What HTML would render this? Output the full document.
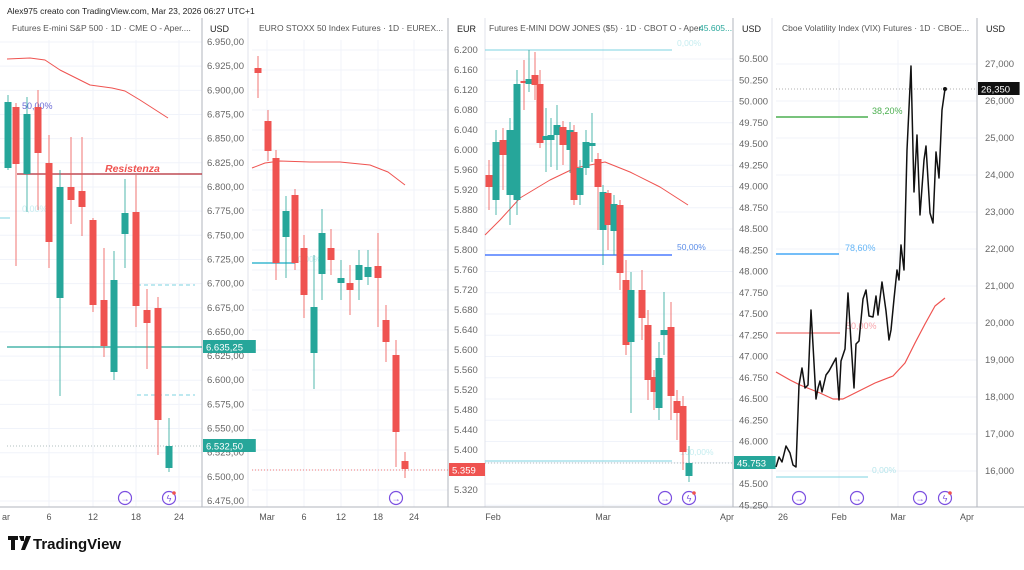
<!DOCTYPE html>
<html><head><meta charset="utf-8"><style>
body{margin:0;background:#fff;width:1024px;height:565px;overflow:hidden;font-family:"Liberation Sans",sans-serif}
svg text{font-family:"Liberation Sans",sans-serif}
</style></head><body>
<svg id="s" width="1024" height="565" viewBox="0 0 1024 565" xmlns="http://www.w3.org/2000/svg">
<rect width="1024" height="565" fill="#fff"/>
<text x="7" y="14" font-size="8.5" fill="#222">Alex975 creato con TradingView.com, Mar 23, 2026 06:27 UTC+1</text>
<g id="g"></g>
<g transform="translate(8,536)">
<path d="M0 0h10v4h-3v10h-4v-10h-3z M11 0h5v5h-3z M18 0h5l-6 14h-4z" fill="#111"/>
<text x="25" y="13" font-size="15" font-weight="bold" fill="#111">TradingView</text>
</g>
</svg>
<script>
const g=document.getElementById('g');let h='';
const G='#26a69a',R='#ef5350';
function ln(x1,y1,x2,y2,c,w,d){h+=`<line x1="${x1}" y1="${y1}" x2="${x2}" y2="${y2}" stroke="${c}" stroke-width="${w||1}" ${d?`stroke-dasharray="${d}"`:''}/>`}
function tx(x,y,t,s,c,a,extra){h+=`<text x="${x}" y="${y}" font-size="${s}" fill="${c}" ${a?`text-anchor="${a}"`:''} ${extra||''}>${t}</text>`}
function pl(p,c,w){h+=`<polyline points="${p}" fill="none" stroke="${c}" stroke-width="${w||1.2}" stroke-linejoin="round"/>`}
function cd(x,o,c,hi,lo,col){col=col==='g'?G:R;ln(x,hi,x,lo,col,0.8);h+=`<rect x="${x-3.5}" y="${Math.min(o,c)}" width="7" height="${Math.max(1.5,Math.abs(c-o))}" fill="${col}"/>`}
function lbl(x,y,t,bg,fg){h+=`<rect x="${x}" y="${y-7}" width="${t.length*5.6+8}" height="13" fill="${bg}"/>`;tx(x+3,y+3.5,t,9.5,fg||'#fff')}
function grid(l,r,ys,xs){ys.forEach(y=>ln(l,y,r,y,'#f0f3fa',1));xs.forEach(x=>ln(x,40,x,507,'#f0f3fa',1))}
let ys1=[],t1=[];for(let i=0;i<20;i++){let v=6950-25*i,y=42+i*24.16;ys1.push(y);t1.push([v,y])}
grid(0,202,ys1,[49,93,136,179]);
let ys2=[],t2=[];for(let i=0;i<23;i++){let v=6200-40*i,y=50+i*20;ys2.push(y);t2.push([v,y])}
grid(252,448,ys2,[267,304,341,378,414]);
let ys3=[],t3=[];for(let i=0;i<22;i++){let v=50500-250*i,y=59+i*21.25;ys3.push(y);t3.push([v,y])}
grid(485,733,ys3,[603]);
let ys4=[],t4=[];for(let i=0;i<12;i++){let v=27000-1000*i,y=64+i*37;ys4.push(y);t4.push([v,y])}
grid(776,977,ys4,[839,898]);
[202,448,733,977].forEach(x=>ln(x,18,x,507,'#b2b5be',1));
[248,485,772].forEach(x=>ln(x,18,x,507,'#e0e3eb',1));
ln(0,507,1024,507,'#b2b5be',1);
tx(12,31,'Futures E-mini S&amp;P 500 · 1D · CME  O - Aper....',8.5,'#555');
tx(259,31,'EURO STOXX 50 Index Futures · 1D · EUREX...',8.5,'#555');
tx(489,31,'Futures E-MINI DOW JONES ($5) · 1D · CBOT  O - Aper.',8.5,'#555');tx(699,31,'45.605...',8.5,G);
tx(782,31,'Cboe Volatility Index (VIX) Futures · 1D · CBOE...',8.5,'#555');
tx(210,32,'USD',9,'#222');tx(457,32,'EUR',9,'#222');tx(742,32,'USD',9,'#222');tx(986,32,'USD',9,'#222');
const f1=v=>{let s=(v/1000).toFixed(3).replace('.',',');return s.slice(0,1)+'.'+s.slice(2)+',00'};
t1.forEach(([v,y])=>tx(207,y+3,f1(v),9.5,'#666'));
t2.forEach(([v,y])=>tx(454,y+3,(v/1000).toFixed(3),9.5,'#666'));
t3.forEach(([v,y])=>{if(y>50)tx(739,y+3,(v/1000).toFixed(3),9.5,'#666')});
t4.forEach(([v,y])=>tx(985,y+3,(v/1000).toFixed(3).replace('.',','),9.5,'#666'));
[['ar',6],['6',49],['12',93],['18',136],['24',179],['Mar',267],['6',304],['12',341],['18',378],['24',414],['Feb',493],['Mar',603],['Apr',727],['26',783],['Feb',839],['Mar',898],['Apr',967]].forEach(([t,x])=>tx(x,520,t,9,'#555','middle'));
pl('7,59 30,58 45,60 60,70 90,85 112,88 125,91 140,100 168,118',R,1);
ln(17,174,202,174,'#b22833',1.3);tx(105,172,'Resistenza',10.5,R,'','font-style="italic" font-weight="bold"');
ln(7,347,202,347,G,1.2);
ln(7,446,202,446,'#9aa',0.8,'1 2');
ln(137,285,195,285,'#7dd3e0',1,'4 3');ln(137,395,195,395,'#7dd3e0',1,'4 3');
ln(0,218,10,218,'#7dd3e0',1);
tx(22,109,'50,00%',9,'#6b6bd6');tx(22,212,'0,00%',9,'#c6edf0');
[[8,168,102,95,170,'g'],[16,107,164,103,266,'r'],[27,174,114,97,212,'g'],[38,107,153,90,210,'r'],[49,163,242,135,268,'r'],[60,298,187,170,396,'g'],[71,187,200,137,224,'r'],[82,191,207,137,236,'r'],[93,220,305,218,312,'r'],[104,300,346,248,357,'r'],[114,372,280,251,380,'g'],[125,234,213,179,268,'g'],[136,212,306,175,327,'r'],[147,310,323,289,369,'r'],[158,308,420,297,455,'r'],[169,468,446,418,472,'g']].forEach(a=>cd(...a));
lbl(203,347,'6.635,25',G);lbl(203,446,'6.532,50',G);
pl('252,168 265,163 280,161 310,162 340,162 370,165 388,172 405,185',R,1);
ln(252,263,295,263,'#3bb8d0',1.5);tx(298,262,'0,00%',8,'#c6edf0');
ln(252,470,448,470,R,0.8,'1 2');
[[258,68,73,56,98,'r'],[268,121,151,110,161,'r'],[276,158,263,150,280,'r'],[286,237,211,196,278,'g'],[295,195,263,189,270,'r'],[304,248,295,235,318,'r'],[314,353,307,255,389,'g'],[322,274,233,209,300,'g'],[331,248,260,229,275,'r'],[341,283,278,260,300,'g'],[350,283,290,265,315,'r'],[359,280,265,250,300,'g'],[368,277,267,250,285,'g'],[378,266,278,233,327,'r'],[386,320,342,305,362,'r'],[396,355,432,340,467,'r'],[405,461,469,452,478,'r']].forEach(a=>cd(...a));
lbl(449,470,'5.359',R);
ln(485,50,672,50,'#7dd3e0',1);tx(677,46,'0,00%',8.5,'#c6edf0');
ln(485,255,672,255,'#2962ff',1.2);tx(677,250,'50,00%',8.5,'#5b8de8');
ln(485,461,672,461,'#7dd3e0',1);tx(680,455,'100,00%',8.5,'#c6edf0');
ln(485,463,733,463,'#9aa',0.8,'1 2');
pl('485,235 500,220 520,198 550,180 575,168 605,162 630,172 660,187 688,205',R,1);
[[489,175,187,160,210,'r'],[496,200,142,130,215,'g'],[503,140,155,128,190,'r'],[510,195,130,118,225,'g'],[517,200,84,70,215,'g'],[524,81,83,60,110,'r'],[529,84,79,50,92,'g'],[535,75,85,52,100,'r'],[540,84,143,70,148,'r'],[546,140,136,108,172,'g'],[551,140,135,118,167,'g'],[557,135,125,105,170,'g'],[563,127,145,121,165,'r'],[570,150,130,122,173,'g'],[574,132,200,125,205,'r'],[580,195,168,160,205,'g'],[586,168,142,130,175,'g'],[592,146,143,113,162,'g'],[598,159,187,153,230,'r'],[603,230,192,185,265,'g'],[608,193,225,190,250,'r'],[614,231,204,195,255,'g'],[620,205,273,200,290,'r'],[626,280,345,260,355,'r'],[631,342,290,272,413,'g'],[642,290,318,270,340,'r'],[648,325,380,310,400,'r'],[654,377,392,370,410,'r'],[659,408,358,342,420,'g'],[664,335,330,292,355,'g'],[671,327,396,302,420,'r'],[677,401,413,390,440,'r'],[683,406,452,396,470,'r'],[689,476,463,446,482,'g']].forEach(a=>cd(...a));
lbl(734,463,'45.753',G);
ln(776,117,868,117,'#4caf50',1.5);tx(872,114,'38,20%',9,'#4caf50');
ln(776,254,839,254,'#2196f3',1.2);tx(845,251,'78,60%',9,'#64b5f6');
ln(776,333,840,333,R,1);tx(846,329,'50,00%',9,'#f7a5ab');
ln(776,477,868,477,'#7dd3e0',1);tx(872,473,'0,00%',8.5,'#b8e6ec');
ln(776,89,977,89,'#999',0.8,'1 2');
pl('776,372 790,380 800,385 820,393 833,399 843,399 857,392 875,383 893,376 905,363 915,343 925,324 935,306 945,298',R,1.2);
pl('776,467 779,457 782,462 786,446 790,453 793,465 796,467 799,385 802,368 805,388 808,385 811,310 813,345 816,399 818,388 820,381 822,392 826,375 829,371 836,358 839,400 841,361 845,349 848,293 851,342 854,388 856,344 859,341 863,299 866,290 869,316 873,317 876,296 878,315 882,282 886,311 889,340 891,330 894,299 897,270 899,280 901,245 904,270 907,150 911,66 914,192 917,135 920,215 924,160 926,146 930,213 933,223 936,152 939,178 942,110 945,89','#111',1.5);
h+='<circle cx="945" cy="89" r="2" fill="#111"/>';
lbl(978,89,'26,350','#111');
function ic(x,bolt){h+=`<circle cx="${x}" cy="498" r="6.5" fill="#fff" stroke="#7b4fe0" stroke-width="1.2"/>`;tx(x,501.5,bolt?'ϟ':'→',9,'#7b4fe0','middle');if(bolt)h+=`<circle cx="${x+5}" cy="493" r="1.8" fill="${R}"/>`}
[[125],[169,1],[396],[665],[689,1],[799],[857],[920],[945,1]].forEach(a=>ic(a[0],a[1]));
g.innerHTML=h;
</script>
</body></html>
